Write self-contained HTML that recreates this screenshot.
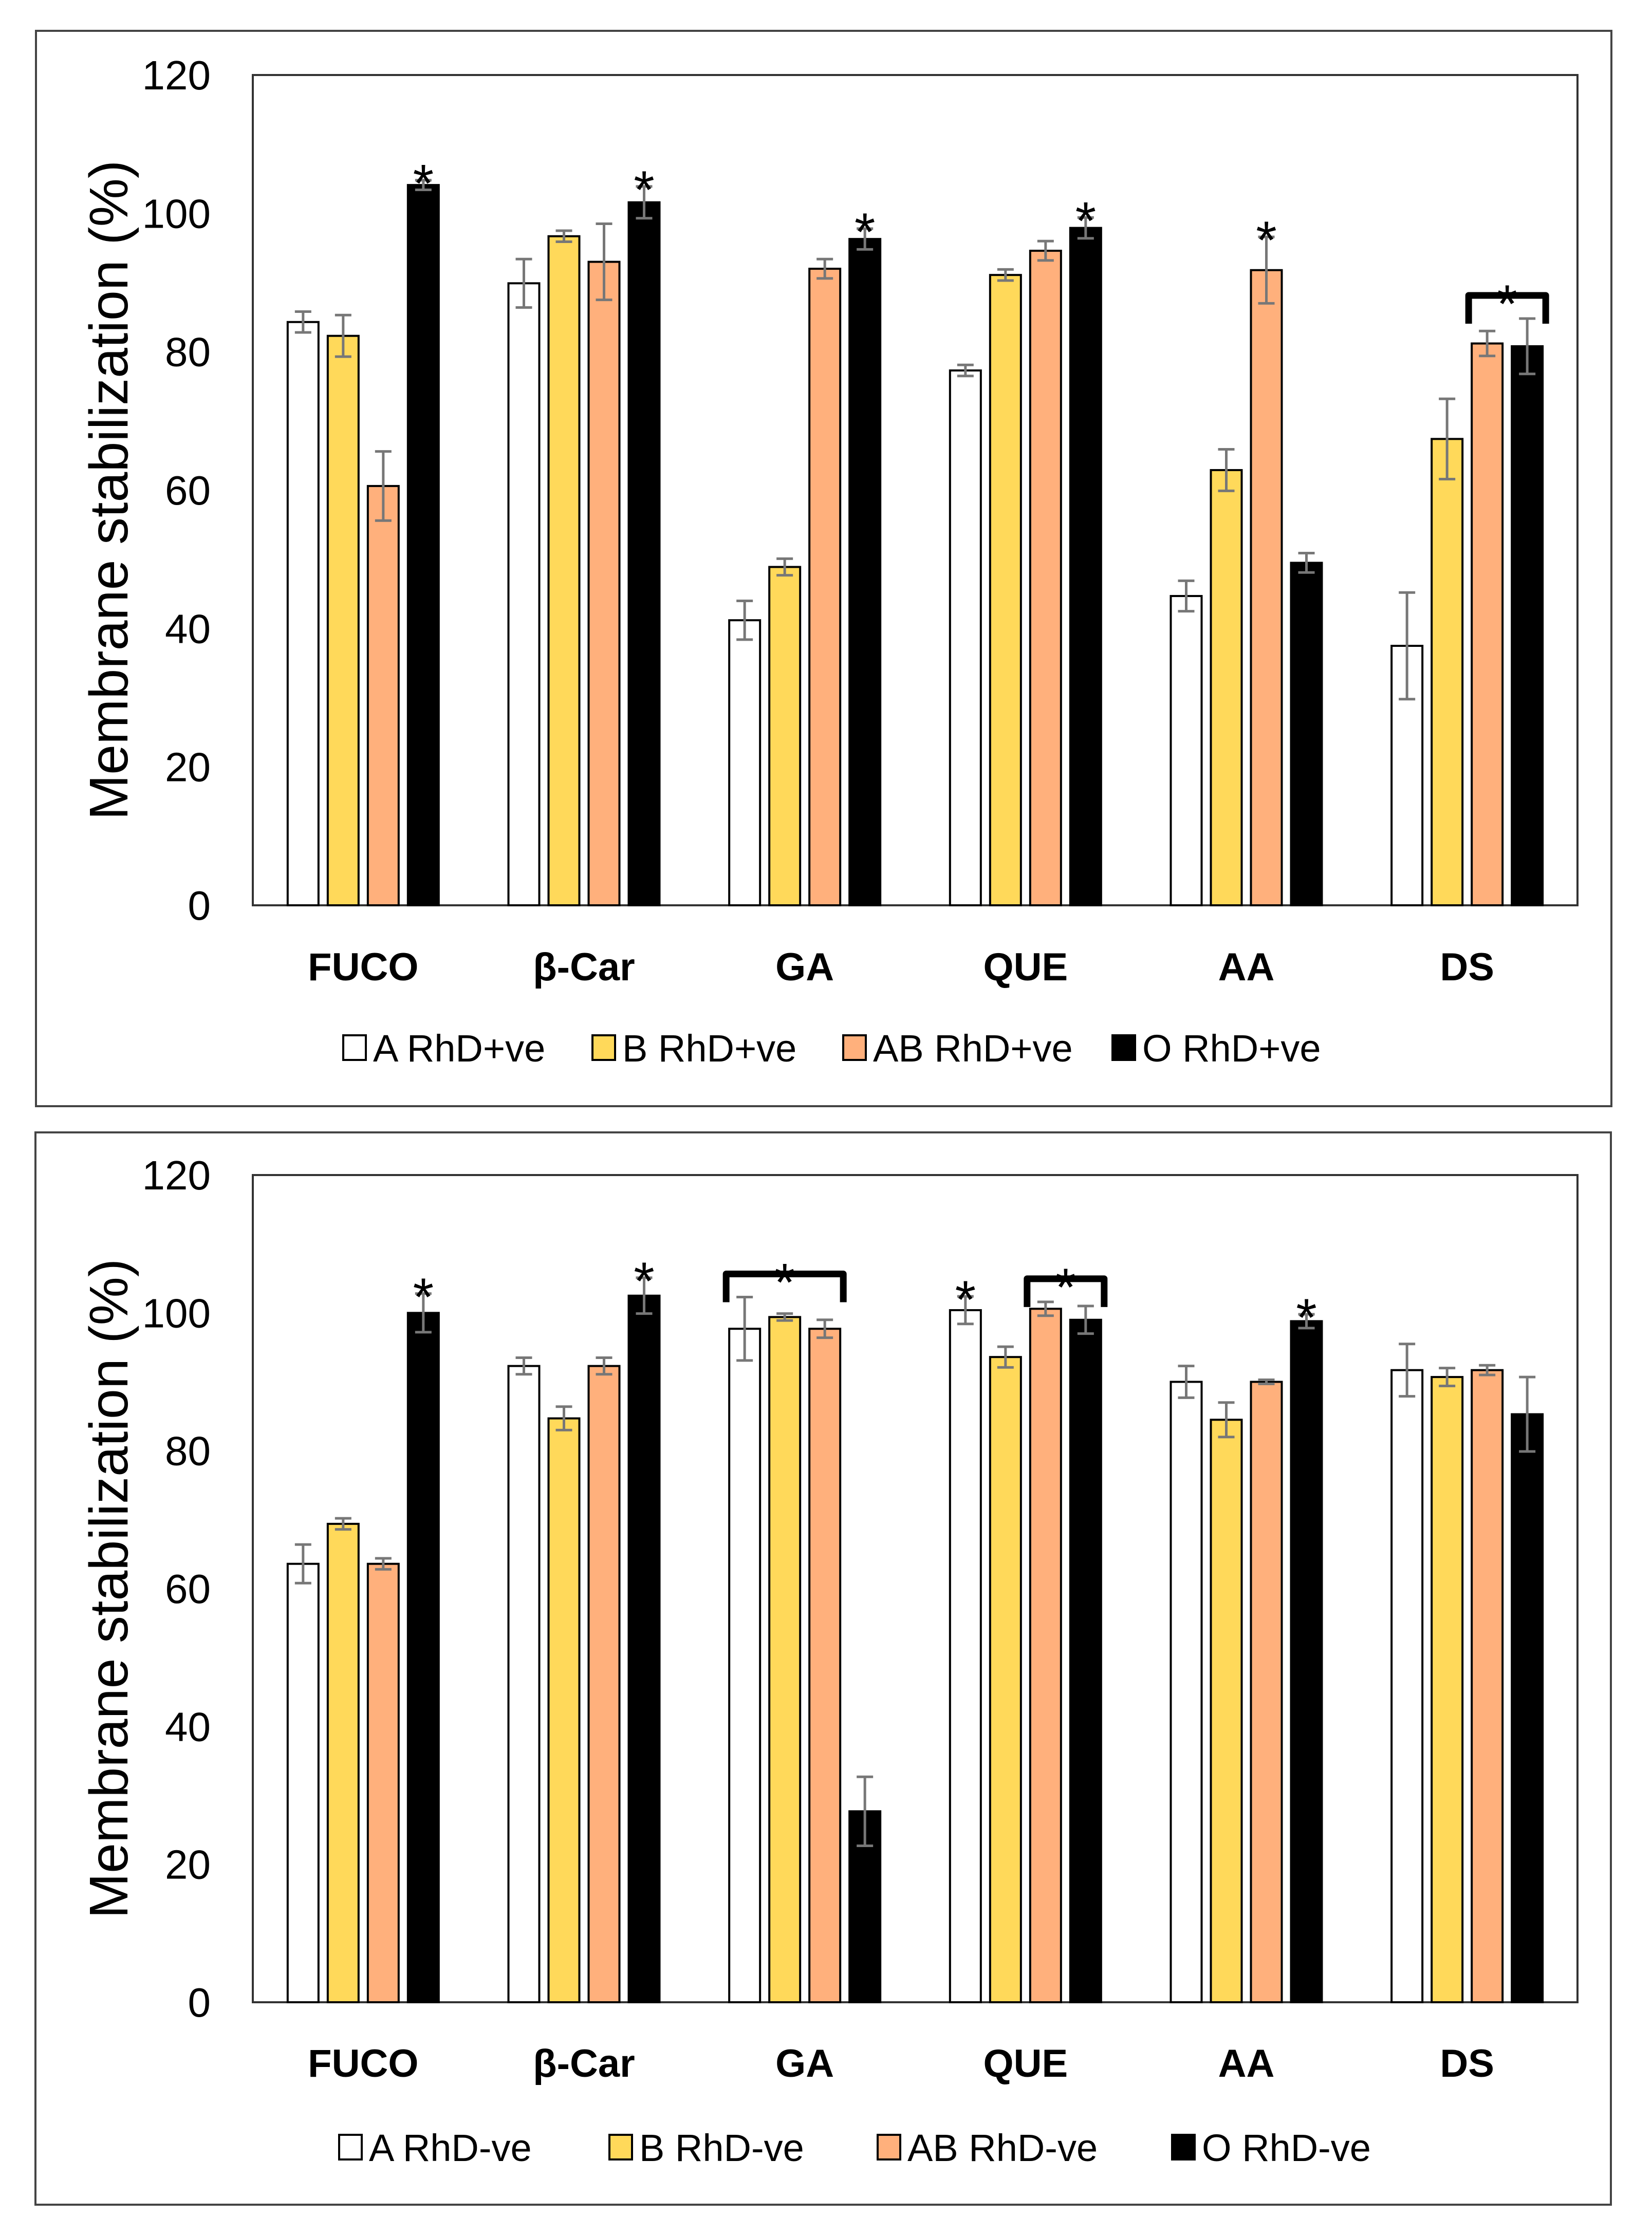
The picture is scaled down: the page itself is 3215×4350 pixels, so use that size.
<!DOCTYPE html>
<html><head><meta charset="utf-8"><style>
html,body{margin:0;padding:0;background:#fff;}
svg{display:block;font-family:"Liberation Sans",sans-serif;}
</style></head><body>
<svg id="fig" width="3215" height="4350" viewBox="0 0 3215 4350" xmlns="http://www.w3.org/2000/svg"></svg>
<script>
const categories = ["FUCO","β-Car","GA","QUE","AA","DS"];
const yTicks = [0,20,40,60,80,100,120];
const seriesColors = ["#ffffff","#ffd95a","#ffb07c","#000000"];
const legendTop = ["A RhD+ve","B RhD+ve","AB RhD+ve","O RhD+ve"];
const legendBottom = ["A RhD-ve","B RhD-ve","AB RhD-ve","O RhD-ve"];
const topA  = [84.3,89.9,41.2,77.3,44.7,37.5];
const topB  = [82.3,96.7,48.9,91.1,62.9,67.4];
const topAB = [60.6,93.0,92.0,94.6,91.8,81.2];
const topO  = [104.1,101.6,96.3,97.9,49.5,80.8];
const topErrA  = [1.5,3.5,2.8,0.8,2.2,7.7];
const topErrB  = [3.0,0.8,1.2,0.8,3.0,5.8];
const topErrAB = [5.0,5.5,1.4,1.4,4.8,1.8];
const topErrO  = [0.7,2.3,1.5,1.5,1.4,4.0];
const botA  = [63.6,92.3,97.7,100.4,90.0,91.7];
const botB  = [69.4,84.7,99.4,93.6,84.5,90.7];
const botAB = [63.6,92.3,97.7,100.6,90.0,91.7];
const botO  = [100.0,102.5,27.7,99.0,98.8,85.3];
const botErrA  = [2.8,1.2,4.6,2.0,2.3,3.8];
const botErrB  = [0.8,1.7,0.5,1.5,2.5,1.3];
const botErrAB = [0.8,1.2,1.3,1.0,0.3,0.7];
const botErrO  = [2.8,2.6,5.0,2.0,1.0,5.4];
const topStars = [[0,3],[1,3],[2,3],[3,3],[4,2]];
const botStars = [[0,3],[1,3],[3,0],[4,3]];
const topBrackets = [[5,2,3]];
const botBrackets = [[2,0,2],[3,2,3]];

const NS="http://www.w3.org/2000/svg";
const svg=document.getElementById('fig');
function mk(tag,attrs,parent){const e=document.createElementNS(NS,tag);for(const k in attrs)e.setAttribute(k,attrs[k]);(parent||svg).appendChild(e);return e;}

function panel(cfg){
  const g=mk('g',{});
  
  
  const L=492,R=3070,T=cfg.top,B=cfg.base;
  const y=v=>B-(v/120)*(B-T);
  const gw=(R-L)/categories.length;
  const xc=(c,s)=>L+gw*(c+0.5)+(s-1.5)*78;
  const fr=mk('rect',{x:cfg.fx,y:cfg.fy,width:cfg.fw,height:cfg.fh,fill:'none',stroke:'#444','stroke-width':4},g);
  
  const pa=mk('rect',{x:L,y:T,width:R-L,height:B-T,fill:'none',stroke:'#333','stroke-width':4},g);
  
  yTicks.forEach(t=>{const tx=mk('text',{x:410,y:y(t)+28,'text-anchor':'end','font-size':80,fill:'#000'},g);tx.textContent=t;
    });
  const cy=(T+B)/2;
  const yt=mk('text',{x:0,y:0,transform:`translate(248,${cy}) rotate(-90)`,'text-anchor':'middle','font-size':106,fill:'#000'},g);
  yt.textContent='Membrane stabilization (%)';
  
  const vals=cfg.vals,errs=cfg.errs;
  categories.forEach((c,ci)=>{
    for(let s=0;s<4;s++){
      const v=vals[s][ci],x=xc(ci,s);
      const r=mk('rect',{x:x-30,y:y(v),width:60,height:B-y(v),fill:seriesColors[s],stroke:'#000','stroke-width':4},g);
      
      const e=errs[s][ci];
      const eb=mk('path',{d:`M${x},${y(v+e)}V${y(v-e)}M${x-16},${y(v+e)}H${x+16}M${x-16},${y(v-e)}H${x+16}`,stroke:'#777','stroke-width':5,fill:'none'},g);
      
    }
    const lb=mk('text',{x:L+gw*(ci+0.5),y:cfg.catY,'text-anchor':'middle','font-size':76,'font-weight':'bold',fill:'#000'},g);
    lb.textContent=c;
  });
  cfg.stars.forEach(([ci,s])=>{
    const v=vals[s][ci]+errs[s][ci];
    const st=mk('text',{x:xc(ci,s),y:y(v)+42,'text-anchor':'middle','font-size':104,fill:'#000'},g);
    st.textContent='*';
  });
  cfg.brackets.forEach(([ci,s0,s1])=>{
    let m=0;for(let s=s0;s<=s1;s++)m=Math.max(m,vals[s][ci]+errs[s][ci]);
    const x0=xc(ci,s0)-36,x1=xc(ci,s1)+36,top=y(m)-45,bot=top+55;
    const p=mk('path',{d:`M${x0},${bot}V${top}H${x1}V${bot}`,stroke:'#000','stroke-width':13,fill:'none','stroke-linejoin':'round'},g);
    
    const st=mk('text',{x:(x0+x1)/2,y:top+52,'text-anchor':'middle','font-size':104,fill:'#000'},g);
    st.textContent='*';
  });
  cfg.legend.forEach((name,i)=>{
    const lx=cfg.legX[i];
    const le=mk('g',{},g);
    
    mk('rect',{x:lx,y:cfg.legY-25,width:44,height:48,fill:seriesColors[i],stroke:'#000','stroke-width':4},le);
    const t=mk('text',{x:lx+58,y:cfg.legY+26,'font-size':74,fill:'#000'},le);t.textContent=name;
  });
}
panel({name:'chart-rhd-positive',top:146,base:1762,fx:70,fy:60,fw:3066,fh:2093,
  vals:[topA,topB,topAB,topO],errs:[topErrA,topErrB,topErrAB,topErrO],stars:topStars,brackets:topBrackets,
  catY:1908,legY:2040,legX:[668,1153,1641,2165],legend:legendTop});
panel({name:'chart-rhd-negative',top:2287,base:3897,fx:69,fy:2204,fw:3066,fh:2087,
  vals:[botA,botB,botAB,botO],errs:[botErrA,botErrB,botErrAB,botErrO],stars:botStars,brackets:botBrackets,
  catY:4042,legY:4180,legX:[660,1186,1708,2281],legend:legendBottom});
</script>
</body></html>
